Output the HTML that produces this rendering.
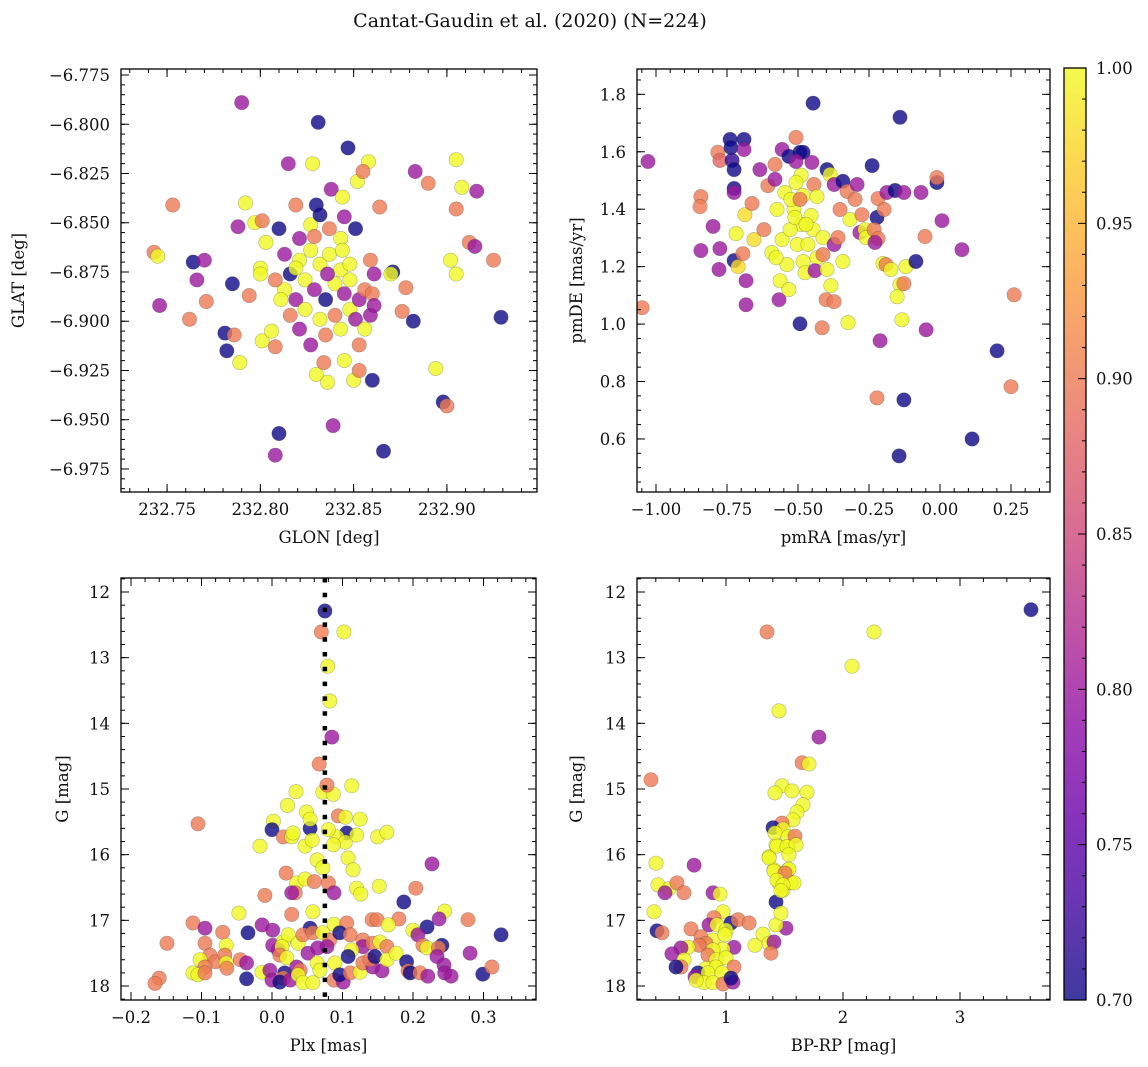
<!DOCTYPE html>
<html><head><meta charset="utf-8">
<style>
html,body{margin:0;padding:0;background:#fff;}
svg{display:block;font-family:"DejaVu Serif","Liberation Serif",serif;}
</style></head>
<body>
<svg id="fig" width="1148" height="1067" viewBox="0 0 1148 1067" xmlns="http://www.w3.org/2000/svg">
<text x="530" y="27" font-size="19" text-anchor="middle" fill="#111">Cantat-Gaudin et al. (2020) (N=224)</text>
</svg>
<script>
// ---------- Panel 1 data: GLON / GLAT ----------
const glonVals = [232.790,232.831,232.847,232.753,232.743,232.745,232.746,232.762,232.764,232.770,232.771,232.766,232.785,232.781,232.782,232.786,232.789,232.792,232.788,232.797,232.801,232.803,232.800,232.800,232.794,232.801,232.806,232.810,232.808,232.810,232.808,232.815,232.828,232.819,232.830,232.838,232.844,232.852,232.858,232.855,232.864,232.839,232.866,232.860,232.850,232.836,232.830,232.834,232.845,232.853,232.853,232.882,232.883,232.890,232.905,232.908,232.916,232.905,232.912,232.915,232.902,232.905,232.925,232.929,232.894,232.898,232.900,232.878,232.876,232.871,232.870,232.861,232.821,232.827,232.832,232.837,232.843,232.824,232.829,232.835,232.840,232.845,232.848,232.816,232.813,232.819,232.824,232.832,232.840,232.848,232.853,232.856,232.859,232.843,232.837,232.851,232.821,232.827,232.832,232.845,232.811,232.816,232.821,232.835,232.843,232.851,232.856,232.827,232.819,232.836,232.844,232.813,232.808,232.848,232.829,232.859,232.860,232.861];
const glatVals = [-6.789,-6.799,-6.812,-6.841,-6.865,-6.867,-6.892,-6.899,-6.870,-6.869,-6.890,-6.879,-6.881,-6.906,-6.915,-6.907,-6.921,-6.840,-6.852,-6.850,-6.849,-6.860,-6.873,-6.876,-6.887,-6.910,-6.905,-6.853,-6.913,-6.957,-6.968,-6.820,-6.820,-6.841,-6.841,-6.833,-6.837,-6.829,-6.819,-6.824,-6.842,-6.953,-6.966,-6.930,-6.930,-6.931,-6.927,-6.921,-6.920,-6.912,-6.925,-6.900,-6.824,-6.830,-6.818,-6.832,-6.834,-6.843,-6.860,-6.862,-6.869,-6.876,-6.869,-6.898,-6.924,-6.941,-6.943,-6.883,-6.895,-6.875,-6.876,-6.876,-6.869,-6.864,-6.871,-6.866,-6.874,-6.879,-6.884,-6.889,-6.881,-6.886,-6.879,-6.876,-6.884,-6.889,-6.894,-6.899,-6.897,-6.894,-6.889,-6.884,-6.897,-6.858,-6.853,-6.853,-6.858,-6.851,-6.846,-6.847,-6.889,-6.897,-6.904,-6.907,-6.904,-6.899,-6.904,-6.912,-6.873,-6.876,-6.864,-6.866,-6.879,-6.871,-6.857,-6.869,-6.886,-6.892];
const probA = [.8,.7,.7,.9,.9,1,.8,.9,.7,.8,.9,.8,.7,.7,.7,.9,1,1,.8,1,.9,1,1,1,.9,1,1,.7,.9,.7,.8,.8,1,.9,.7,.8,1,1,1,.9,.9,.8,.7,.7,1,1,1,.9,1,.9,.9,.7,.8,.9,1,1,.8,.9,.9,.8,1,1,.9,.7,1,.7,.9,.9,.9,.7,1,.8,1,1,1,1,1,1,.8,.7,1,.8,1,.7,1,.8,1,1,.9,1,.8,.9,.8,1,.9,.7,.8,1,.7,.8,1,.9,.8,.9,1,.8,1,.8,1,.8,1,.8,.9,1,.9,.9,.9,.8];
const p1XTicks = [232.75,232.80,232.85,232.90];
const p1YTicks = [-6.775,-6.800,-6.825,-6.850,-6.875,-6.900,-6.925,-6.950,-6.975];

// ---------- Panel 2 data: pmRA / pmDE ----------
const pmraVals = [-1.028,-1.049,-0.842,-0.845,-0.842,-0.799,-0.778,-0.775,-0.782,-0.775,-0.739,-0.736,-0.732,-0.725,-0.725,-0.725,-0.718,-0.725,-0.711,-0.690,-0.690,-0.687,-0.694,-0.683,-0.683,-0.662,-0.655,-0.634,-0.620,-0.606,-0.581,-0.581,-0.574,-0.567,-0.563,-0.556,-0.592,-0.546,-0.539,-0.532,-0.577,-0.556,-0.507,-0.532,-0.493,-0.482,-0.507,-0.489,-0.507,-0.482,-0.514,-0.489,-0.503,-0.482,-0.475,-0.525,-0.493,-0.465,-0.454,-0.447,-0.444,-0.433,-0.433,-0.440,-0.528,-0.511,-0.472,-0.451,-0.398,-0.387,-0.373,-0.493,-0.447,-0.412,-0.412,-0.398,-0.373,-0.401,-0.373,-0.415,-0.384,-0.342,-0.352,-0.327,-0.317,-0.299,-0.359,-0.342,-0.324,-0.282,-0.264,-0.261,-0.275,-0.292,-0.218,-0.222,-0.232,-0.218,-0.229,-0.197,-0.201,-0.190,-0.211,-0.222,-0.239,-0.187,-0.158,-0.127,-0.141,-0.173,-0.141,-0.151,-0.134,-0.120,-0.127,-0.085,-0.127,-0.144,-0.067,-0.011,-0.011,0.007,-0.053,-0.049,0.077,0.201,0.113,0.261,0.250];
const pmdeVals = [1.566,1.057,1.444,1.409,1.256,1.340,1.190,1.263,1.598,1.570,1.643,1.615,1.570,1.538,1.472,1.458,1.315,1.221,1.200,1.643,1.608,1.381,1.245,1.067,1.151,1.420,1.294,1.538,1.329,1.482,1.556,1.504,1.399,1.085,1.151,1.294,1.249,1.458,1.207,1.120,1.231,1.608,1.650,1.584,1.598,1.598,1.566,1.518,1.493,1.448,1.399,1.347,1.277,1.218,1.179,1.434,1.434,1.277,1.378,1.329,1.486,1.444,1.231,1.186,1.329,1.371,1.347,1.563,1.538,1.521,1.486,1.001,1.769,1.301,1.242,1.190,1.277,1.085,1.078,0.987,1.134,1.497,1.399,1.462,1.364,1.434,1.301,1.218,1.005,1.319,1.329,1.301,1.381,1.486,1.437,1.371,1.329,1.298,1.284,1.399,1.211,1.207,0.942,0.743,1.552,1.458,1.465,1.458,1.720,1.190,1.137,1.095,1.015,1.200,1.141,1.218,0.736,0.541,1.458,1.493,1.510,1.360,1.305,0.980,1.259,0.907,0.600,1.102,0.782];
const probB = [.8,.9,.9,.9,.8,.8,.8,.8,.9,.88,.7,.7,.72,.7,.7,.8,1,.7,.98,.7,.8,.98,.9,.8,.8,.9,.98,.8,.9,.9,.9,.8,1,.8,1,1,1,1,1,1,1,.8,.9,.7,.7,.7,.8,1,1,1,1,1,1,1,1,1,.9,1,1,1,.9,1,1,.8,1,1,1,.8,.7,1,.8,.7,.7,1,.9,1,.8,.9,.9,.9,1,.7,.9,.9,1,.9,.9,1,1,.8,1,1,.9,.8,.9,.7,.9,.9,.8,.9,1,.9,.8,.9,.7,.8,.7,.8,.7,1,1,1,1,1,.9,.7,.7,.7,.8,.7,.9,.8,.9,.8,.8,.7,.7,.9,.9];
const p2XTicks = [-1.00,-0.75,-0.50,-0.25,0.00,0.25];
const p2YTicks = [0.6,0.8,1.0,1.2,1.4,1.6,1.8];

// ---------- Panel 3 data: Plx / G ----------
const plxVals = [-0.105,0.002,0.0,0.022,0.034,0.049,0.054,0.054,0.016,0.028,0.030,-0.017,0.047,0.057,0.064,0.072,0.072,0.087,0.113,0.094,0.104,0.125,0.106,0.092,0.104,0.120,0.087,0.080,0.108,0.115,0.150,0.163,0.227,0.020,0.035,0.047,0.060,0.080,0.033,0.028,0.088,-0.010,0.120,0.126,0.152,0.204,0.187,-0.047,0.028,0.058,0.245,0.278,0.325,-0.112,-0.095,-0.070,-0.034,-0.014,0.001,0.054,0.088,0.106,0.142,0.149,0.180,0.165,0.220,0.237,0.200,0.207,-0.149,-0.095,-0.065,0.001,0.016,0.023,0.037,0.044,0.058,0.072,0.082,0.078,0.096,0.111,0.129,0.129,0.113,0.143,0.153,0.163,0.214,0.220,0.241,0.236,0.281,0.234,-0.088,-0.080,-0.067,-0.065,-0.064,-0.102,-0.095,-0.045,-0.036,-0.112,-0.105,-0.095,-0.160,-0.166,-0.036,-0.014,-0.003,0.0,0.009,0.014,0.011,0.021,0.018,0.016,0.011,0.026,0.035,0.040,0.037,0.044,0.058,0.051,0.064,0.068,0.065,0.089,0.088,0.101,0.096,0.108,0.111,0.125,0.129,0.143,0.156,0.139,0.146,0.163,0.176,0.191,0.193,0.196,0.210,0.221,0.244,0.245,0.254,0.299,0.312,0.075,0.070,0.102,0.079,0.082,0.085,0.067,0.078];
const gPlxVals = [15.53,15.49,15.62,15.25,15.04,15.35,15.60,15.46,15.73,15.73,15.67,15.87,15.87,15.78,16.08,16.20,15.05,15.08,14.95,15.41,15.43,15.46,15.67,15.73,15.81,15.70,15.85,15.62,16.05,16.23,15.73,15.66,16.14,16.28,16.43,16.37,16.41,16.43,16.58,16.58,16.58,16.62,16.51,16.60,16.48,16.51,16.72,16.89,16.91,16.87,16.86,16.99,17.22,17.04,17.12,17.18,17.19,17.07,17.15,17.12,17.06,17.04,16.99,16.99,16.98,17.07,17.10,16.98,17.15,17.22,17.35,17.35,17.38,17.38,17.33,17.22,17.35,17.22,17.19,17.19,17.30,17.40,17.19,17.22,17.30,17.40,17.45,17.35,17.33,17.40,17.38,17.42,17.38,17.42,17.50,17.55,17.53,17.63,17.53,17.65,17.73,17.60,17.71,17.60,17.65,17.80,17.83,17.80,17.88,17.96,17.89,17.79,17.76,17.91,17.45,17.40,17.53,17.57,17.80,17.88,17.94,17.91,17.71,17.76,17.83,17.95,17.95,17.50,17.65,17.76,17.42,17.65,17.91,17.94,17.83,17.55,17.80,17.79,17.65,17.71,17.77,17.60,17.55,17.60,17.50,17.63,17.77,17.80,17.80,17.85,17.68,17.80,17.85,17.82,17.71,12.29,12.61,12.61,13.13,13.66,14.21,14.62,14.94];
const probC = [.9,1,.7,1,1,1,.7,1,.9,1, 1,1,1,1,1,1,1,1,1,.9, 1,1,.7,1,1,1,1,1,1,1, 1,1,.8,.9,1,1,.9,.9,.9,.8, .8,.9,1,1,1,.9,.7,1,.9,1, 1,.9,.7,.9,.8,.9,.7,.8,.8,.7, 1,.9,.9,.9,.9,1,.7,.8,1,.8, .9,.9,1,.8,1,1,1,.9,.9,1, .9,.8,.7,.9,.9,.8,1,.9,1,.9, .9,1,.7,.9,.8,.8,.9,.9,.9,1, .9,1,.9,.9,.8,1,1,.9,.9,.9, .7,1,.8,.8,.8,1,.9,1,.7,.9, .7,.8,.8,.9,1,1,1,.8,1,1, .8,1,.9,.8,.7,.7,.9,1,.9,.8, .8,.9,.7,1,1,.7,.9,.7,.9,.8, .8,.8,.8,.7,.9, .7,.9,1,1,1,.8,.9,.9];
const p3XTicks = [-0.2,-0.1,0.0,0.1,0.2,0.3];
const p3YTicks = [12,13,14,15,16,17,18];
const plxRef = [0.075];

// ---------- Panel 4 data: BP-RP / G ----------
const bprpVals = [0.402,0.727,0.419,0.513,0.479,0.581,0.641,0.889,0.949,0.385,0.410,0.453,0.974,0.897,0.855,1.043,1.103,1.197,0.923,0.701,1.0,0.786,0.889,0.829,0.991,0.769,0.675,0.615,1.068,0.974,0.889,0.538,0.846,0.915,1.0,0.641,0.615,0.573,0.829,0.915,1.068,0.761,0.735,0.846,0.966,0.812,0.889,0.974,1.060,1.043,0.744,1.248,1.316,1.368,1.410,1.385,1.513,1.427,1.427,1.470,1.368,1.410,1.453,1.530,1.487,1.556,1.427,1.530,1.453,1.795,1.650,1.709,1.479,1.419,1.564,1.692,1.658,1.607,1.573,1.479,1.402,1.487,1.419,1.530,1.590,1.436,1.521,1.598,1.538,1.368,1.410,1.538,1.504,1.436,1.581,1.487,1.470,1.350,2.265,2.077,3.607,0.359];
const gCmdVals = [16.13,16.16,16.46,16.52,16.58,16.43,16.58,16.58,16.60,16.87,17.16,17.19,16.87,16.96,17.07,17.04,16.99,17.04,17.07,17.13,17.15,17.25,17.30,17.35,17.22,17.38,17.41,17.42,17.41,17.44,17.45,17.51,17.53,17.60,17.57,17.60,17.71,17.71,17.73,17.71,17.71,17.80,17.86,17.80,17.80,17.95,17.95,17.97,17.94,17.88,17.91,17.38,17.21,17.35,17.33,17.50,17.12,17.07,16.72,16.89,16.03,16.23,16.43,16.23,16.54,16.43,15.85,15.88,13.81,14.21,14.60,14.62,14.95,15.06,15.03,15.05,15.24,15.35,15.47,15.52,15.59,15.61,15.67,15.73,15.72,15.87,15.88,15.85,16.00,16.05,16.25,16.22,16.28,16.39,16.43,16.46,16.55,12.61,12.61,13.13,12.27,14.86];
const probD = [1,.8,1,1,.8,.9,.9,.8,1,1, .7,.9,1,.9,.8,.7,.9,.9,1,.9, 1,.9,1,.9,1,.9,1,.8,.8,1, 1,.8,.9,1,1,1,.9,.7,1,1, .9,.7,.8,1,1,1,1,.9,.8,.7, 1,1,1,1,.8,.9,.8,1,.7,1, 1,1,1,1,1,1,1,1,1,.8, .9,1,1,1,1,1,1,1,1,.9, .7,1,1,1,.9,1,1,1,1,1, 1,1,.9,1,1,1,1,.9,1,1, .7,.9];
const p4XTicks = [1,2,3];
const p4YTicks = [12,13,14,15,16,17,18];

// ---------- Colour bar ----------
const cbTicks = [0.70,0.75,0.80,0.85,0.90,0.95,1.00];
const cbRange = [0.70,1.00];

const NS = "http://www.w3.org/2000/svg";
const svg = document.getElementById('fig');
const plasma = ["#0d0887","#41049d","#6a00a8","#8f0da4","#b12a90","#cc4778","#e16462","#f2844b","#fca636","#fcce25","#f0f921"];
function hex(h){return [parseInt(h.slice(1,3),16),parseInt(h.slice(3,5),16),parseInt(h.slice(5,7),16)];}
function cmap(p){
  if(typeof p!=='number' || isNaN(p)) p=1;
  let t=(p-cbRange[0])/(cbRange[1]-cbRange[0]); t=Math.max(0,Math.min(1,t));
  const f=t*10, i=Math.min(9,Math.floor(f)), r=f-i;
  const a=hex(plasma[i]), b=hex(plasma[i+1]);
  return 'rgb('+a.map((v,k)=>Math.round(v+(b[k]-v)*r)).join(',')+')';
}
function mk(tag, attrs, parent){
  const e=document.createElementNS(NS,tag);
  for(const k in attrs) e.setAttribute(k,attrs[k]);
  (parent||svg).appendChild(e); return e;
}
function fmt(v,d){const s=Math.abs(v).toFixed(d); return (v<-1e-9?'\u2212':'')+s;}

function panel(cfg){
  const {name,L,T,R,B,xd,yd,yInv,xt,xdec,xminor,yt,ydec,yminor,xlab,ylab,ylabX,xs,ys,ps}=cfg;
  const g=mk('g',{});
  
  
  const sx=v=>L+(v-xd[0])/(xd[1]-xd[0])*(R-L);
  const sy=v=>yInv? T+(v-yd[0])/(yd[1]-yd[0])*(B-T) : B-(v-yd[0])/(yd[1]-yd[0])*(B-T);
  const clip=mk('clipPath',{id:'clip-'+name},g);
  mk('rect',{x:L,y:T,width:R-L,height:B-T},clip);
  const pts=mk('g',{'clip-path':'url(#clip-'+name+')'},g);
  
  
  const n=Math.min(xs.length, ys.length);
  for(let i=0;i<n;i++){
    const c=mk('circle',{cx:sx(xs[i]).toFixed(1),cy:sy(ys[i]).toFixed(1),r:7.2,fill:cmap(ps[i]),'fill-opacity':0.8,stroke:'#333','stroke-opacity':0.35,'stroke-width':0.6},pts);
    
    
  }
  if(cfg.extra) cfg.extra(g,sx,sy);
  const tk=mk('g',{stroke:'#000','stroke-width':1},g);
  const xlo=Math.ceil(Math.min(...xd)/xminor-1e-6), xhi=Math.floor(Math.max(...xd)/xminor+1e-6);
  for(let k=xlo;k<=xhi;k++){const x=sx(k*xminor);
    mk('line',{x1:x,y1:B,x2:x,y2:B-4},tk); mk('line',{x1:x,y1:T,x2:x,y2:T+4},tk);}
  const ylo=Math.ceil(Math.min(...yd)/yminor-1e-6), yhi=Math.floor(Math.max(...yd)/yminor+1e-6);
  for(let k=ylo;k<=yhi;k++){const y=sy(k*yminor);
    mk('line',{x1:L,y1:y,x2:L+4,y2:y},tk); mk('line',{x1:R,y1:y,x2:R-4,y2:y},tk);}
  xt.forEach(v=>{const x=sx(v);
    mk('line',{x1:x,y1:B,x2:x,y2:B-8},tk); mk('line',{x1:x,y1:T,x2:x,y2:T+8},tk);
    const t=mk('text',{x:x,y:B+23,'font-size':16.5,'text-anchor':'middle',fill:'#111'},g);
    
    
    t.textContent=fmt(v,xdec);});
  yt.forEach(v=>{const y=sy(v);
    mk('line',{x1:L,y1:y,x2:L+8,y2:y},tk); mk('line',{x1:R,y1:y,x2:R-8,y2:y},tk);
    const t=mk('text',{x:L-11,y:y+6,'font-size':16.5,'text-anchor':'end',fill:'#111'},g);
    
    
    t.textContent=fmt(v,ydec);});
  const fr=mk('rect',{x:L,y:T,width:R-L,height:B-T,fill:'none',stroke:'#000','stroke-width':1.3},g);
  
  
  const xl=mk('text',{x:(L+R)/2,y:B+51,'font-size':16.5,'text-anchor':'middle',fill:'#111'},g);
  
  
  xl.textContent=xlab;
  const yl=mk('text',{x:ylabX,y:(T+B)/2,'font-size':16.5,'text-anchor':'middle',fill:'#111',transform:'rotate(-90 '+ylabX+' '+(T+B)/2+')'},g);
  
  
  yl.textContent=ylab;
}

panel({name:'glon-glat',L:121,T:69,R:537,B:492,xd:[232.7253,232.9483],yd:[-6.98669,-6.77195],yInv:false,
  xt:p1XTicks,xdec:2,xminor:0.01,yt:p1YTicks,ydec:3,yminor:0.005,xlab:'GLON [deg]',ylab:'GLAT [deg]',ylabX:24,
  xs:glonVals,ys:glatVals,ps:probA});
panel({name:'proper-motion',L:637,T:69,R:1050,B:492,xd:[-1.0669,0.3873],yd:[0.4153,1.8882],yInv:false,
  xt:p2XTicks,xdec:2,xminor:0.05,yt:p2YTicks,ydec:1,yminor:0.05,xlab:'pmRA [mas/yr]',ylab:'pmDE [mas/yr]',ylabX:582,
  xs:pmraVals,ys:pmdeVals,ps:probB});
panel({name:'parallax-mag',L:121,T:578,R:536,B:1000,xd:[-0.2142,0.3745],yd:[11.787,18.213],yInv:true,
  xt:p3XTicks,xdec:1,xminor:0.02,yt:p3YTicks,ydec:0,yminor:0.2,xlab:'Plx [mas]',ylab:'G [mag]',ylabX:68,
  xs:plxVals,ys:gPlxVals,ps:probC,
  extra:function(grp,sx,sy){
    plxRef.forEach(function(v){
      const l=mk('line',{x1:sx(v),y1:578,x2:sx(v),y2:1000,stroke:'#000','stroke-width':4.5,'stroke-dasharray':'4.5 10.3'},grp);
      
      
    });
  }});
panel({name:'cmd',L:637,T:578,R:1050,B:1000,xd:[0.2393,3.7692],yd:[11.787,18.213],yInv:true,
  xt:p4XTicks,xdec:0,xminor:0.2,yt:p4YTicks,ydec:0,yminor:0.2,xlab:'BP-RP [mag]',ylab:'G [mag]',ylabX:582,
  xs:bprpVals,ys:gCmdVals,ps:probD});

// colour bar
(function(){
  const L=1064,R=1086,T=68,B=1000;
  const cb=mk('g',{});
  
  
  const defs=mk('defs',{},cb);
  const lg=mk('linearGradient',{id:'cbgrad',x1:0,y1:1,x2:0,y2:0},defs);
  plasma.forEach((c,i)=>mk('stop',{offset:(i/10),'stop-color':c},lg));
  mk('rect',{x:L,y:T,width:R-L,height:B-T,fill:'url(#cbgrad)','fill-opacity':0.8},cb);
  const sy=v=>B-(v-cbRange[0])/(cbRange[1]-cbRange[0])*(B-T);
  for(let k=70;k<=100;k++){const y=sy(k/100);
    mk('line',{x1:R,y1:y,x2:R-(k%5===0?8:4),y2:y,stroke:'#000','stroke-width':1},cb);}
  cbTicks.forEach(v=>{
    const t=mk('text',{x:R+10,y:sy(v)+6,'font-size':16.5,fill:'#111'},cb);
    
    
    t.textContent=v.toFixed(2);});
  mk('rect',{x:L,y:T,width:R-L,height:B-T,fill:'none',stroke:'#000','stroke-width':1.3},cb);
})();
</script>
</body></html>
